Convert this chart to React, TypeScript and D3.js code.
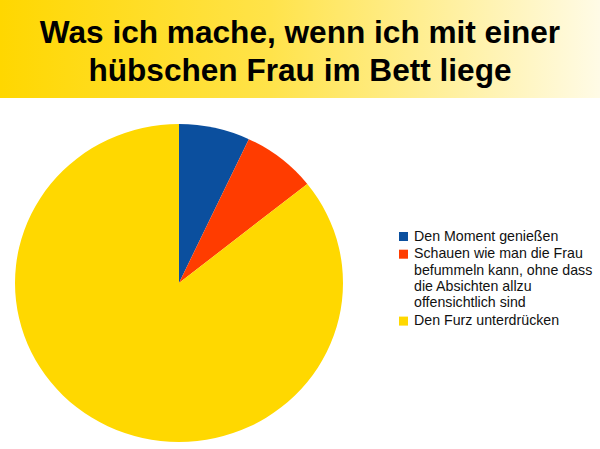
import React from 'react';
import * as d3 from 'd3';

const titleLines = ['Was ich mache, wenn ich mit einer', 'hübschen Frau im Bett liege'];
const categories = [
  ['Den Moment genießen'],
  ['Schauen wie man die Frau', 'befummeln kann, ohne dass', 'die Absichten allzu', 'offensichtlich sind'],
  ['Den Furz unterdrücken'],
];
const values = [7, 7.3, 85.7];
const colors = ['#0b4f9e', '#ff3c00', '#ffd800'];

const W = 600;
const H = 449;

const App: React.FC = () => {
  const cx = 179;
  const cy = 283;
  const r = 159;
  const sx = 164 / 159;

  const pie = d3.pie<number>().sort(null).value((d) => d);
  const arcs = pie(values);
  const arc = d3.arc<d3.PieArcDatum<number>>().innerRadius(0).outerRadius(r);

  // legend layout (baselines)
  const lineH = 16.4;
  const gap = 1.3;
  let y = 240.5;
  const legendRows = categories.map((lines, i) => {
    const row = { lines, y, color: colors[i] };
    y += lines.length * lineH + gap;
    return row;
  });

  const titleY = [43, 81];

  return (
    <svg width={W} height={H} style={{ position: 'absolute', left: 0, top: 0 }}>
      <defs>
        <linearGradient id="hdr" x1="0" x2="1" y1="0" y2="0">
          <stop offset="0%" stopColor="#ffd700" />
          <stop offset="45%" stopColor="#ffe34a" />
          <stop offset="100%" stopColor="#fffbe6" />
        </linearGradient>
      </defs>
      <rect x={0} y={0} width={W} height={H} fill="#fff" />
      <rect x={0} y={0} width={W} height={98} fill="url(#hdr)" />
      {titleLines.map((t, i) => (
        <text
          key={i}
          x={300}
          y={titleY[i]}
          textAnchor="middle"
          fontFamily="'Liberation Sans', Arial, sans-serif"
          fontWeight="bold"
          fontSize={31.6}
          fill="#000"
        >
          {t}
        </text>
      ))}
      <g transform={`translate(${cx},${cy}) scale(${sx},1)`}>
        {arcs.map((a, i) => (
          <path key={i} d={arc(a) || ''} fill={colors[i]} />
        ))}
      </g>
      <g fontFamily="'Liberation Sans', Arial, sans-serif" fontSize={14.2} fill="#111">
        {legendRows.map((row, i) => (
          <g key={i}>
            <rect x={399} y={row.y - 8.5} width={9} height={9} fill={row.color} />
            {row.lines.map((l, j) => (
              <text key={j} x={414} y={row.y + j * lineH}>
                {l}
              </text>
            ))}
          </g>
        ))}
      </g>
    </svg>
  );
};

export default App;
